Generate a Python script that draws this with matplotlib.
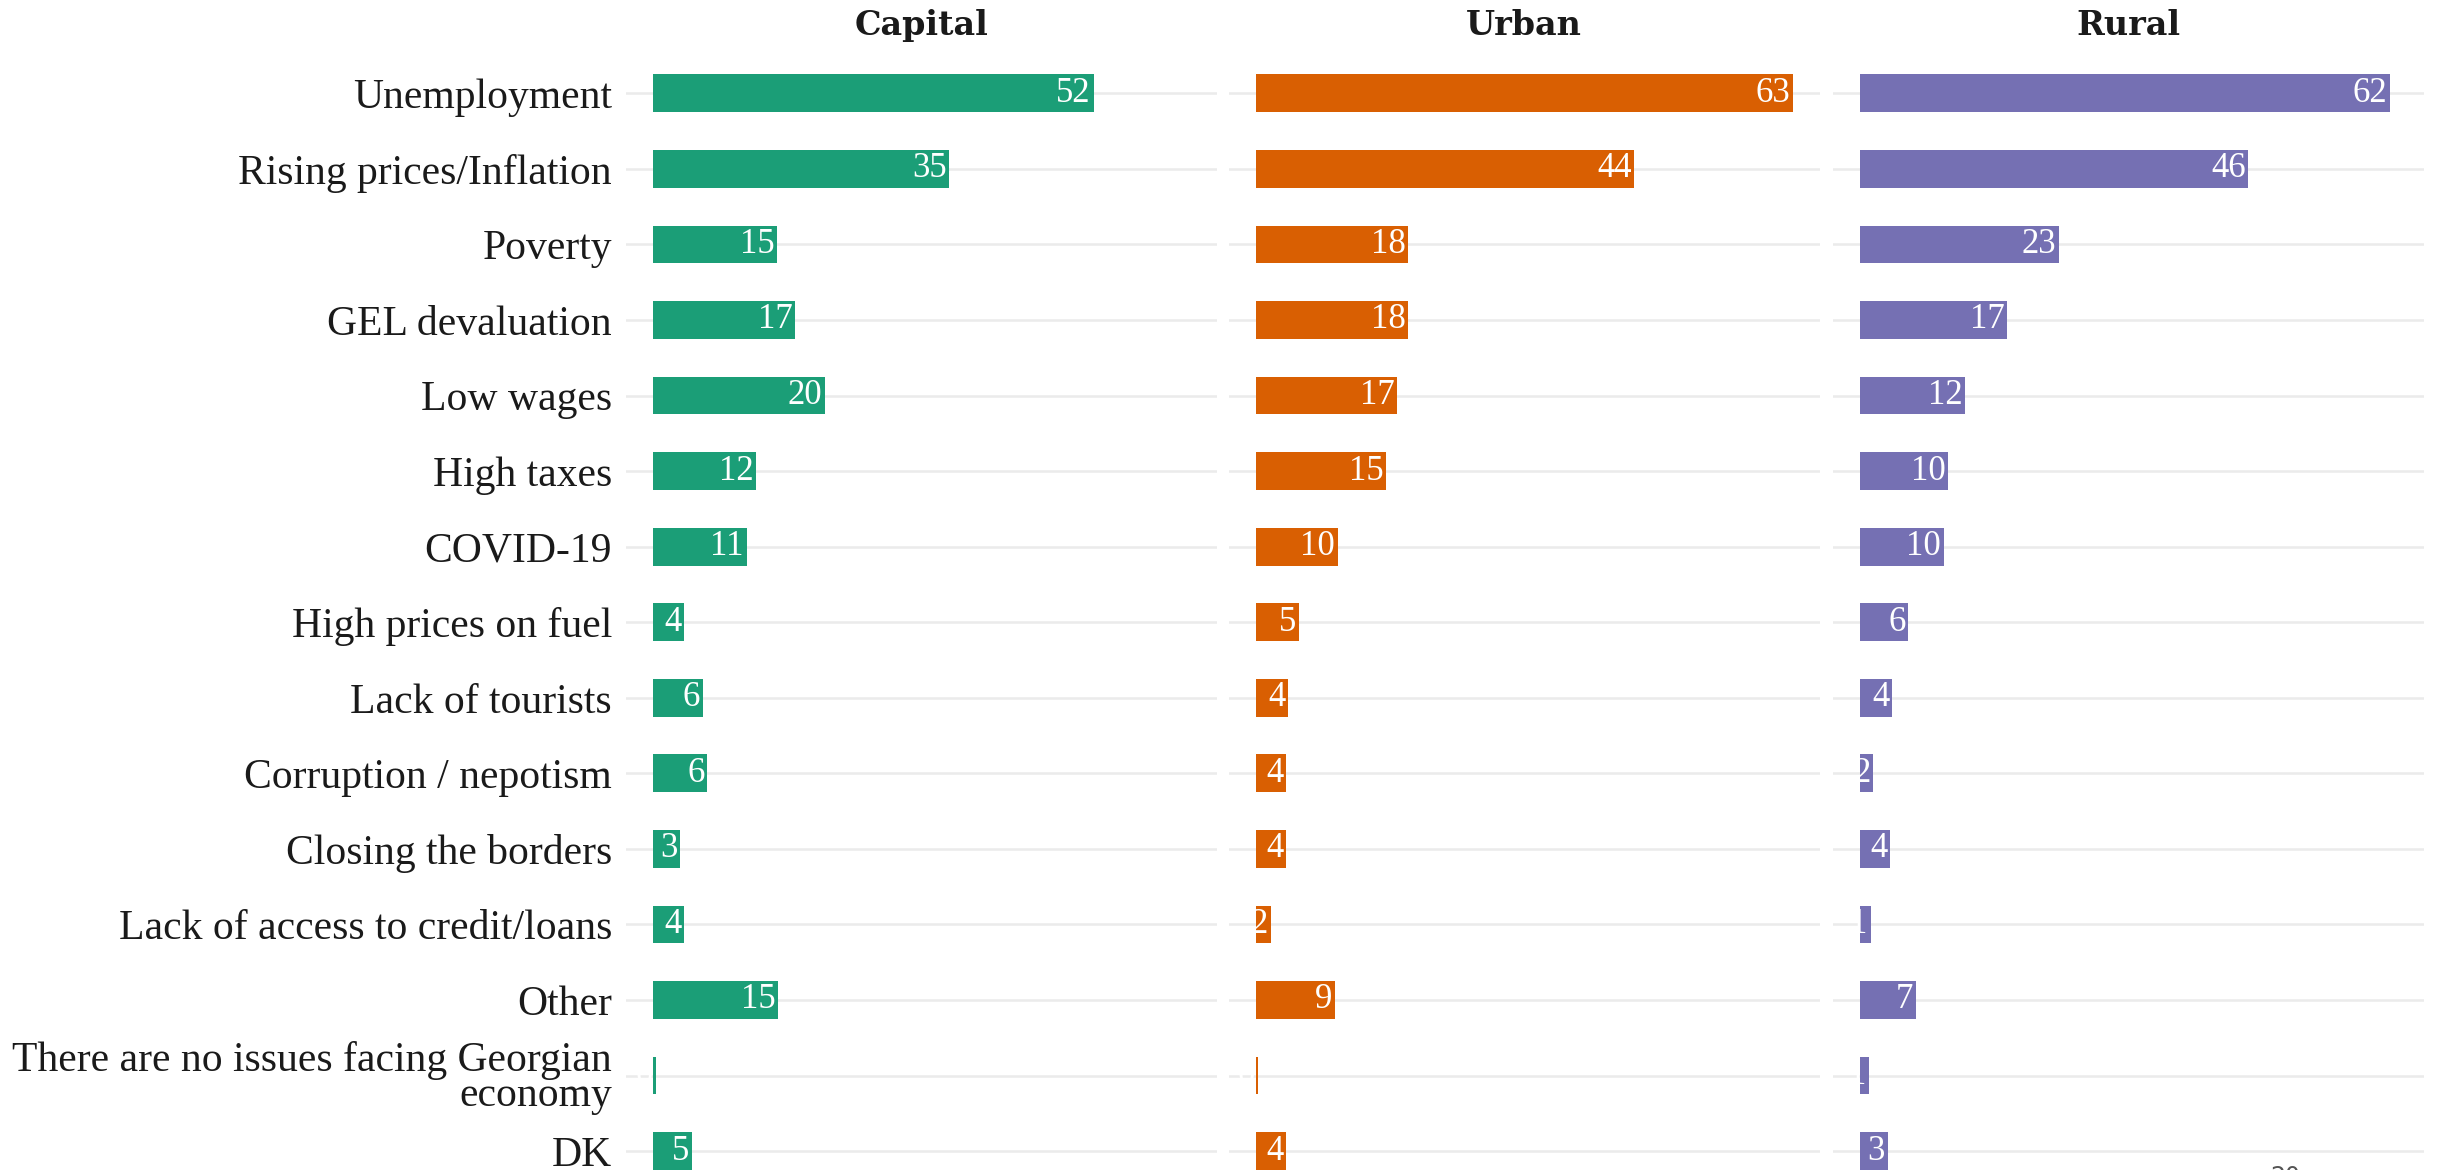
import matplotlib
matplotlib.use("Agg")
import matplotlib.pyplot as plt

# issues facing Georgian economy, % by settlement type
categories = [
    "Unemployment",
    "Rising prices/Inflation",
    "Poverty",
    "GEL devaluation",
    "Low wages",
    "High taxes",
    "COVID-19",
    "High prices on fuel",
    "Lack of tourists",
    "Corruption / nepotism",
    "Closing the borders",
    "Lack of access to credit/loans",
    "Other",
    "There are no issues facing Georgian\neconomy",
    "DK",
]
panels = ["Capital", "Urban", "Rural"]
capital = [51.7, 34.8, 14.6, 16.7, 20.2, 12.1, 11.0, 3.7, 5.9, 6.4, 3.2, 3.7, 14.7, 0.4, 4.6]
urban = [63.0, 44.4, 17.9, 17.9, 16.6, 15.3, 9.6, 5.1, 3.8, 3.6, 3.6, 1.8, 9.3, 0.3, 3.6]
rural = [62.2, 45.6, 23.4, 17.3, 12.4, 10.4, 9.9, 5.7, 3.8, 1.6, 3.6, 1.3, 6.6, 1.1, 3.3]
colors = ["#1B9E77", "#D95F02", "#7570B3"]
page_no = "20"

series = [capital, urban, rural]
vmax = max(max(s) for s in series)
xlim = (-0.05 * vmax, 1.05 * vmax)

fig = plt.figure(figsize=(24.4, 11.7), dpi=100)
lefts = [0.2565, 0.5036, 0.7511]
w = 0.2422
bottom, height = -0.0226, 0.9816

ypos = list(range(len(categories)))

for k, (name, vals, col) in enumerate(zip(panels, series, colors)):
    ax = fig.add_axes([lefts[k], bottom, w, height])
    ax.barh(ypos, vals, height=0.5, color=col, zorder=2)
    for y, v in zip(ypos, vals):
        ax.annotate(f"{v:.0f}", (v, y), xytext=(-2, 0), textcoords="offset points",
                    ha="right", va="center", color="white", fontsize=25,
                    family="Liberation Serif", zorder=3, annotation_clip=False)
    ax.set_xlim(*xlim)
    ax.set_ylim(len(categories) - 0.4, -0.6)
    ax.set_yticks(ypos)
    if k == 0:
        ax.set_yticklabels(categories, fontsize=30, family="Liberation Serif",
                           color="#1a1a1a", linespacing=0.88)
    else:
        ax.set_yticklabels([])
    ax.set_xticks([])
    ax.tick_params(axis="y", length=0, pad=10)
    ax.yaxis.grid(True, color="#EBEBEB", lw=1.8)
    ax.set_axisbelow(True)
    for s in ax.spines.values():
        s.set_visible(False)
    fig.text(lefts[k] + w / 2, 0.978, name, ha="center", va="center",
             fontsize=24, fontweight="bold", family="DejaVu Serif", color="#1a1a1a")

# page number, cut off by the bottom edge
fig.text(2285 / 2440, 0.0043, page_no, ha="center", va="top", fontsize=17,
         family="DejaVu Sans", color="#555555")

fig.savefig("out.png", dpi=100)
